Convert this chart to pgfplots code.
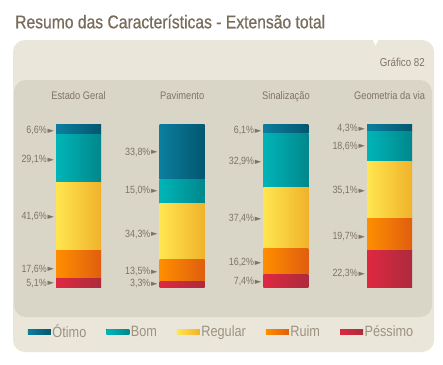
\documentclass[border=0pt]{standalone}
\usepackage{pgfplots}
\pgfplotsset{compat=1.18}
\usepackage{pgfplotstable}
\usepackage{fontspec}
\setmainfont{Liberation Sans}[FakeStretch=0.85]
\newfontfamily\titlefont{Liberation Sans}[FakeStretch=0.85, FakeBold=0.6]
\newfontfamily\symfont{DejaVu Sans}
\definecolor{outerbg}{HTML}{EAE6D9}
\definecolor{innerbg}{HTML}{D9D5C7}
\definecolor{txt}{HTML}{7F7466}
\definecolor{titlec}{HTML}{7A6C5B}
\definecolor{legtxt}{HTML}{9C9282}
\definecolor{otA}{HTML}{0B7E9E}\definecolor{otB}{HTML}{035670}
\definecolor{boA}{HTML}{00B5B7}\definecolor{boB}{HTML}{00878C}
\definecolor{reA}{HTML}{FFE650}\definecolor{reB}{HTML}{F0B22A}
\definecolor{ruA}{HTML}{FF8E00}\definecolor{ruB}{HTML}{E05E0E}
\definecolor{peA}{HTML}{DF2840}\definecolor{peB}{HTML}{AC2B3C}
\newcommand{\arr}{\hspace{0.8bp}{\symfont\fontsize{8.5}{8.5}\selectfont\raisebox{0.2bp}{►}}}
\newcommand{\lab}[3]{\node[anchor=base east, inner sep=0pt, xshift=-24.3bp, yshift=-3.8bp, font=\fontsize{10.5}{10.5}\selectfont, text=txt] at (axis cs:#1,#2) {#3\arr};}
\newcommand{\cat}[2]{\node[anchor=base, inner sep=0pt, yshift=24.7bp, font=\fontsize{11}{11}\selectfont, text=txt] at (axis cs:#1,100) {#2};}
\pgfplotstableread{
x pes rui reg bom oti
0 5.1 17.6 41.6 29.1 6.6
}\estado
\pgfplotstableread{
x pes rui reg bom oti
1 3.3 13.5 34.3 15.0 33.8
}\pavimento
\pgfplotstableread{
x pes rui reg bom oti
2 7.4 16.2 37.4 32.9 6.1
}\sinal
\pgfplotstableread{
x pes rui reg bom oti
3 22.3 19.7 35.1 18.6 4.3
}\geom
\pgfplotsset{grp/.style={
  at={(26.7bp,77bp)}, anchor=south west, scale only axis,
  width=414.7bp, height=163bp,
  xmin=-0.5, xmax=3.5, ymin=0, ymax=100,
  axis lines=none, ybar stacked, bar width=45bp, clip=false}}
\newcommand{\bars}[1]{%
\addplot[draw=none, left color=peA, right color=peB] table[x=x,y=pes]{#1};
\addplot[draw=none, left color=ruA, right color=ruB] table[x=x,y=rui]{#1};
\addplot[draw=none, left color=reA, right color=reB] table[x=x,y=reg]{#1};
\addplot[draw=none, left color=boA, right color=boB] table[x=x,y=bom]{#1};
\addplot[draw=none, left color=otA, right color=otB] table[x=x,y=oti]{#1};
}
\begin{document}
\begin{tikzpicture}[x=1bp,y=1bp]
\useasboundingbox (0,0) rectangle (443,364);
\fill[white] (0,0) rectangle (443,364);
\fill[outerbg, rounded corners=12bp] (13,12) rectangle (434,324);
\fill[white] (372.5,324.5) -- (378.5,324.5) -- (375.5,318.5) -- cycle;
\fill[innerbg, rounded corners=12bp] (14,47) rectangle (432,284);
\node[anchor=base west, inner sep=0pt, font=\titlefont\fontsize{18.5}{18.5}\selectfont, text=titlec] at (15,335.7) {Resumo das Características - Extensão total};
\node[anchor=base east, inner sep=0pt, font=\fontsize{11.5}{11.5}\selectfont, text=txt] at (425,297.5) {Gráfico 82};
\begin{axis}[grp,
  reverse legend, legend columns=5,
  legend image code/.code={\fill[#1] (0bp,-2.5bp) rectangle (23bp,2.5bp);},
  legend style={draw=none, fill=none, inner sep=0pt, outer sep=0pt,
    at={(0.003,-0.276)}, anchor=west,
    font=\fontsize{15}{15}\selectfont, text=legtxt,
    nodes={inner xsep=1.5bp, inner ysep=0pt},
    /tikz/every even column/.append style={column sep=18.5bp}},
]
\bars{\estado}
\legend{Péssimo,Ruim,Regular,Bom,Ótimo}
\cat{0}{Estado Geral}
\lab{0}{96.5}{6,6\%}
\lab{0}{78.8}{29,1\%}
\lab{0}{43.5}{41,6\%}
\lab{0}{11.5}{17,6\%}
\lab{0}{2.9}{5,1\%}
\end{axis}
\begin{axis}[grp]
\bars{\pavimento}
\cat{1}{Pavimento}
\lab{1}{83.3}{33,8\%}
\lab{1}{59.4}{15,0\%}
\lab{1}{33.0}{34,3\%}
\lab{1}{9.8}{13,5\%}
\lab{1}{2.6}{3,3\%}
\end{axis}
\begin{axis}[grp]
\bars{\sinal}
\cat{2}{Sinalização}
\lab{2}{96.3}{6,1\%}
\lab{2}{77.4}{32,9\%}
\lab{2}{42.3}{37,4\%}
\lab{2}{15.5}{16,2\%}
\lab{2}{3.7}{7,4\%}
\end{axis}
\begin{axis}[grp]
\bars{\geom}
\cat{3}{Geometria da via}
\lab{3}{97.7}{4,3\%}
\lab{3}{86.9}{18,6\%}
\lab{3}{59.5}{35,1\%}
\lab{3}{31.3}{19,7\%}
\lab{3}{8.8}{22,3\%}
\end{axis}
\end{tikzpicture}
\end{document}
